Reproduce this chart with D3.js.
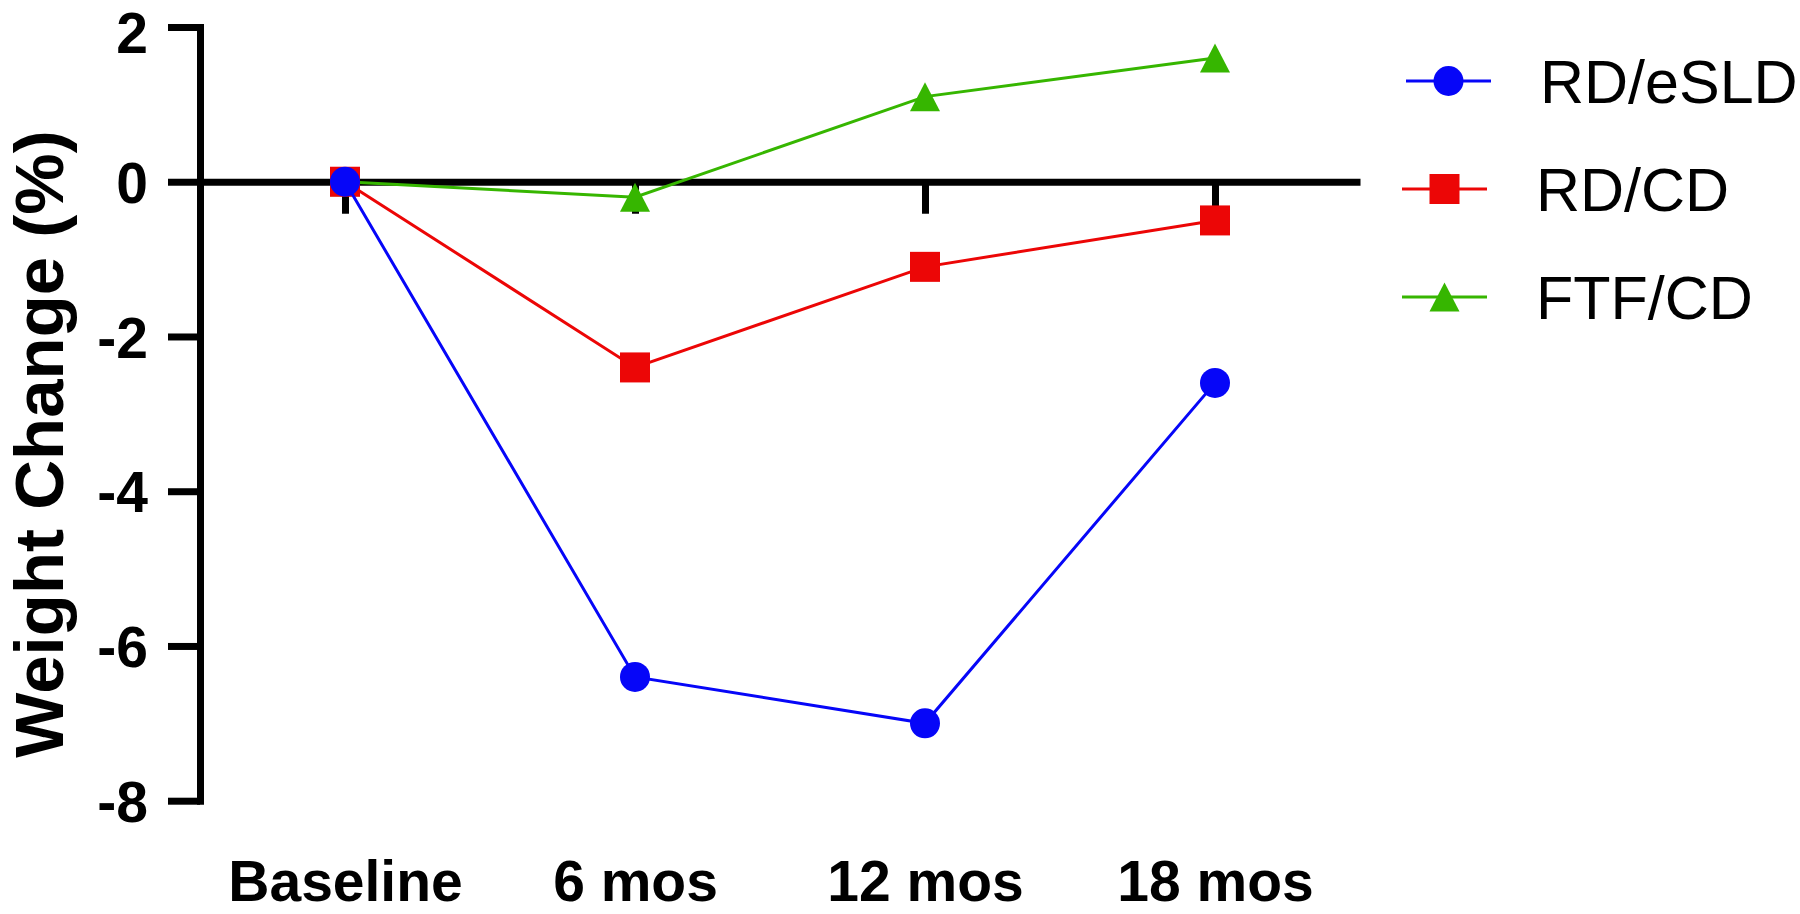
<!DOCTYPE html>
<html>
<head>
<meta charset="utf-8">
<script src="https://cdn.jsdelivr.net/npm/d3@7"></script>
<style>
  html, body { margin: 0; padding: 0; background: #ffffff; }
  svg { display: block; }
  text { font-family: "Liberation Sans", Arial, Helvetica, sans-serif; fill: #000; }
</style>
</head>
<body>
<svg id="chart" width="1800" height="914"></svg>
<script>
// ---- data ----
const categories = ["Baseline", "6 mos", "12 mos", "18 mos"];
const rdEsld = [0, -6.4, -7.0, -2.6];
const rdCd   = [0, -2.4, -1.1, -0.5];
const ftfCd  = [0, -0.2, 1.1, 1.6];
const seriesNames = ["RD/eSLD", "RD/CD", "FTF/CD"];
const yTicks = [2, 0, -2, -4, -6, -8];
const yLabel = "Weight Change (%)";

// ---- config ----
const colors = { "RD/eSLD": "#0606f8", "RD/CD": "#ec0606", "FTF/CD": "#36b600" };
const shapes = { "RD/eSLD": "circle", "RD/CD": "square", "FTF/CD": "triangle" };
const seriesValues = { "RD/eSLD": rdEsld, "RD/CD": rdCd, "FTF/CD": ftfCd };

const svg = d3.select("#chart");

const x = d3.scalePoint().domain(categories).range([200, 1360]).padding(0.5);
const y = d3.scaleLinear().domain([-8, 2]).range([800.7, 27]);

const AXW = 7;

// y axis
const yAxisG = svg.append("g").attr("transform", "translate(200,0)")
  .call(d3.axisLeft(y).tickValues(yTicks).tickSize(32).tickSizeOuter(0).tickPadding(20)
        .tickFormat(d => String(d)));
yAxisG.select(".domain").attr("stroke", "#000").attr("stroke-width", AXW).attr("stroke-linecap", "square");
yAxisG.selectAll(".tick line").attr("stroke", "#000").attr("stroke-width", AXW);
yAxisG.selectAll(".tick text")
  .style("font-family", "'Liberation Sans', Arial, sans-serif")
  .style("font-weight", "bold").style("font-size", "57px").attr("fill", "#000")
  .attr("dy", "0.36em")
  // keep the topmost label's text box inside the canvas
  .attr("transform", d => d === d3.max(yTicks) ? "translate(0,4.5)" : null);

// x axis at y=0
const xAxisG = svg.append("g").attr("transform", `translate(0,${y(0)})`)
  .call(d3.axisBottom(x).tickSize(32).tickSizeOuter(0).tickFormat(""));
xAxisG.select(".domain").attr("stroke", "#000").attr("stroke-width", AXW);
xAxisG.selectAll(".tick line").attr("stroke", "#000").attr("stroke-width", AXW);

// x labels at bottom
const xLabG = svg.append("g").attr("transform", "translate(0,861)")
  .call(d3.axisBottom(x).tickSize(0).tickPadding(0));
xLabG.select(".domain").remove();
xLabG.selectAll(".tick text")
  .style("font-family", "'Liberation Sans', Arial, sans-serif")
  .style("font-weight", "bold").style("font-size", "57px").attr("fill", "#000");

// y label
svg.append("text")
  .attr("transform", "translate(63,444) rotate(-90)")
  .attr("text-anchor", "middle")
  .style("font-weight", "bold").style("font-size", "69px")
  .text(yLabel);

// marker drawing
function drawMarker(g, shape, cx, cy, color) {
  if (shape === "circle") {
    g.append("circle").attr("cx", cx).attr("cy", cy).attr("r", 15).attr("fill", color);
  } else if (shape === "square") {
    g.append("rect").attr("x", cx - 15).attr("y", cy - 15).attr("width", 30).attr("height", 30).attr("fill", color);
  } else {
    const w = 15, h = 14.5;
    g.append("path").attr("d", `M${cx},${cy - h}L${cx + w},${cy + h}L${cx - w},${cy + h}Z`).attr("fill", color);
  }
}

const line = d3.line().x((d, i) => x(categories[i])).y(d => y(d));

// draw series, last first so RD/eSLD on top
const drawOrder = seriesNames.slice().reverse();
drawOrder.forEach(name => {
  const vals = seriesValues[name];
  const g = svg.append("g");
  g.append("path").datum(vals).attr("d", line)
    .attr("fill", "none").attr("stroke", colors[name]).attr("stroke-width", 3);
  vals.forEach((v, i) => drawMarker(g, shapes[name], x(categories[i]), y(v), colors[name]));
});

// legend
const legRowY = [81, 189, 297];
const legOffset = [4, 0, 0];
seriesNames.forEach((name, i) => {
  const g = svg.append("g").attr("transform", `translate(${legOffset[i]},${legRowY[i]})`);
  g.append("line").attr("x1", 1402).attr("x2", 1487).attr("y1", 0).attr("y2", 0)
    .attr("stroke", colors[name]).attr("stroke-width", 3);
  drawMarker(g, shapes[name], 1444.5, 0, colors[name]);
  g.append("text").attr("x", 1536).attr("y", 22)
    .style("font-size", "61px").text(name);
});
</script>
</body>
</html>
